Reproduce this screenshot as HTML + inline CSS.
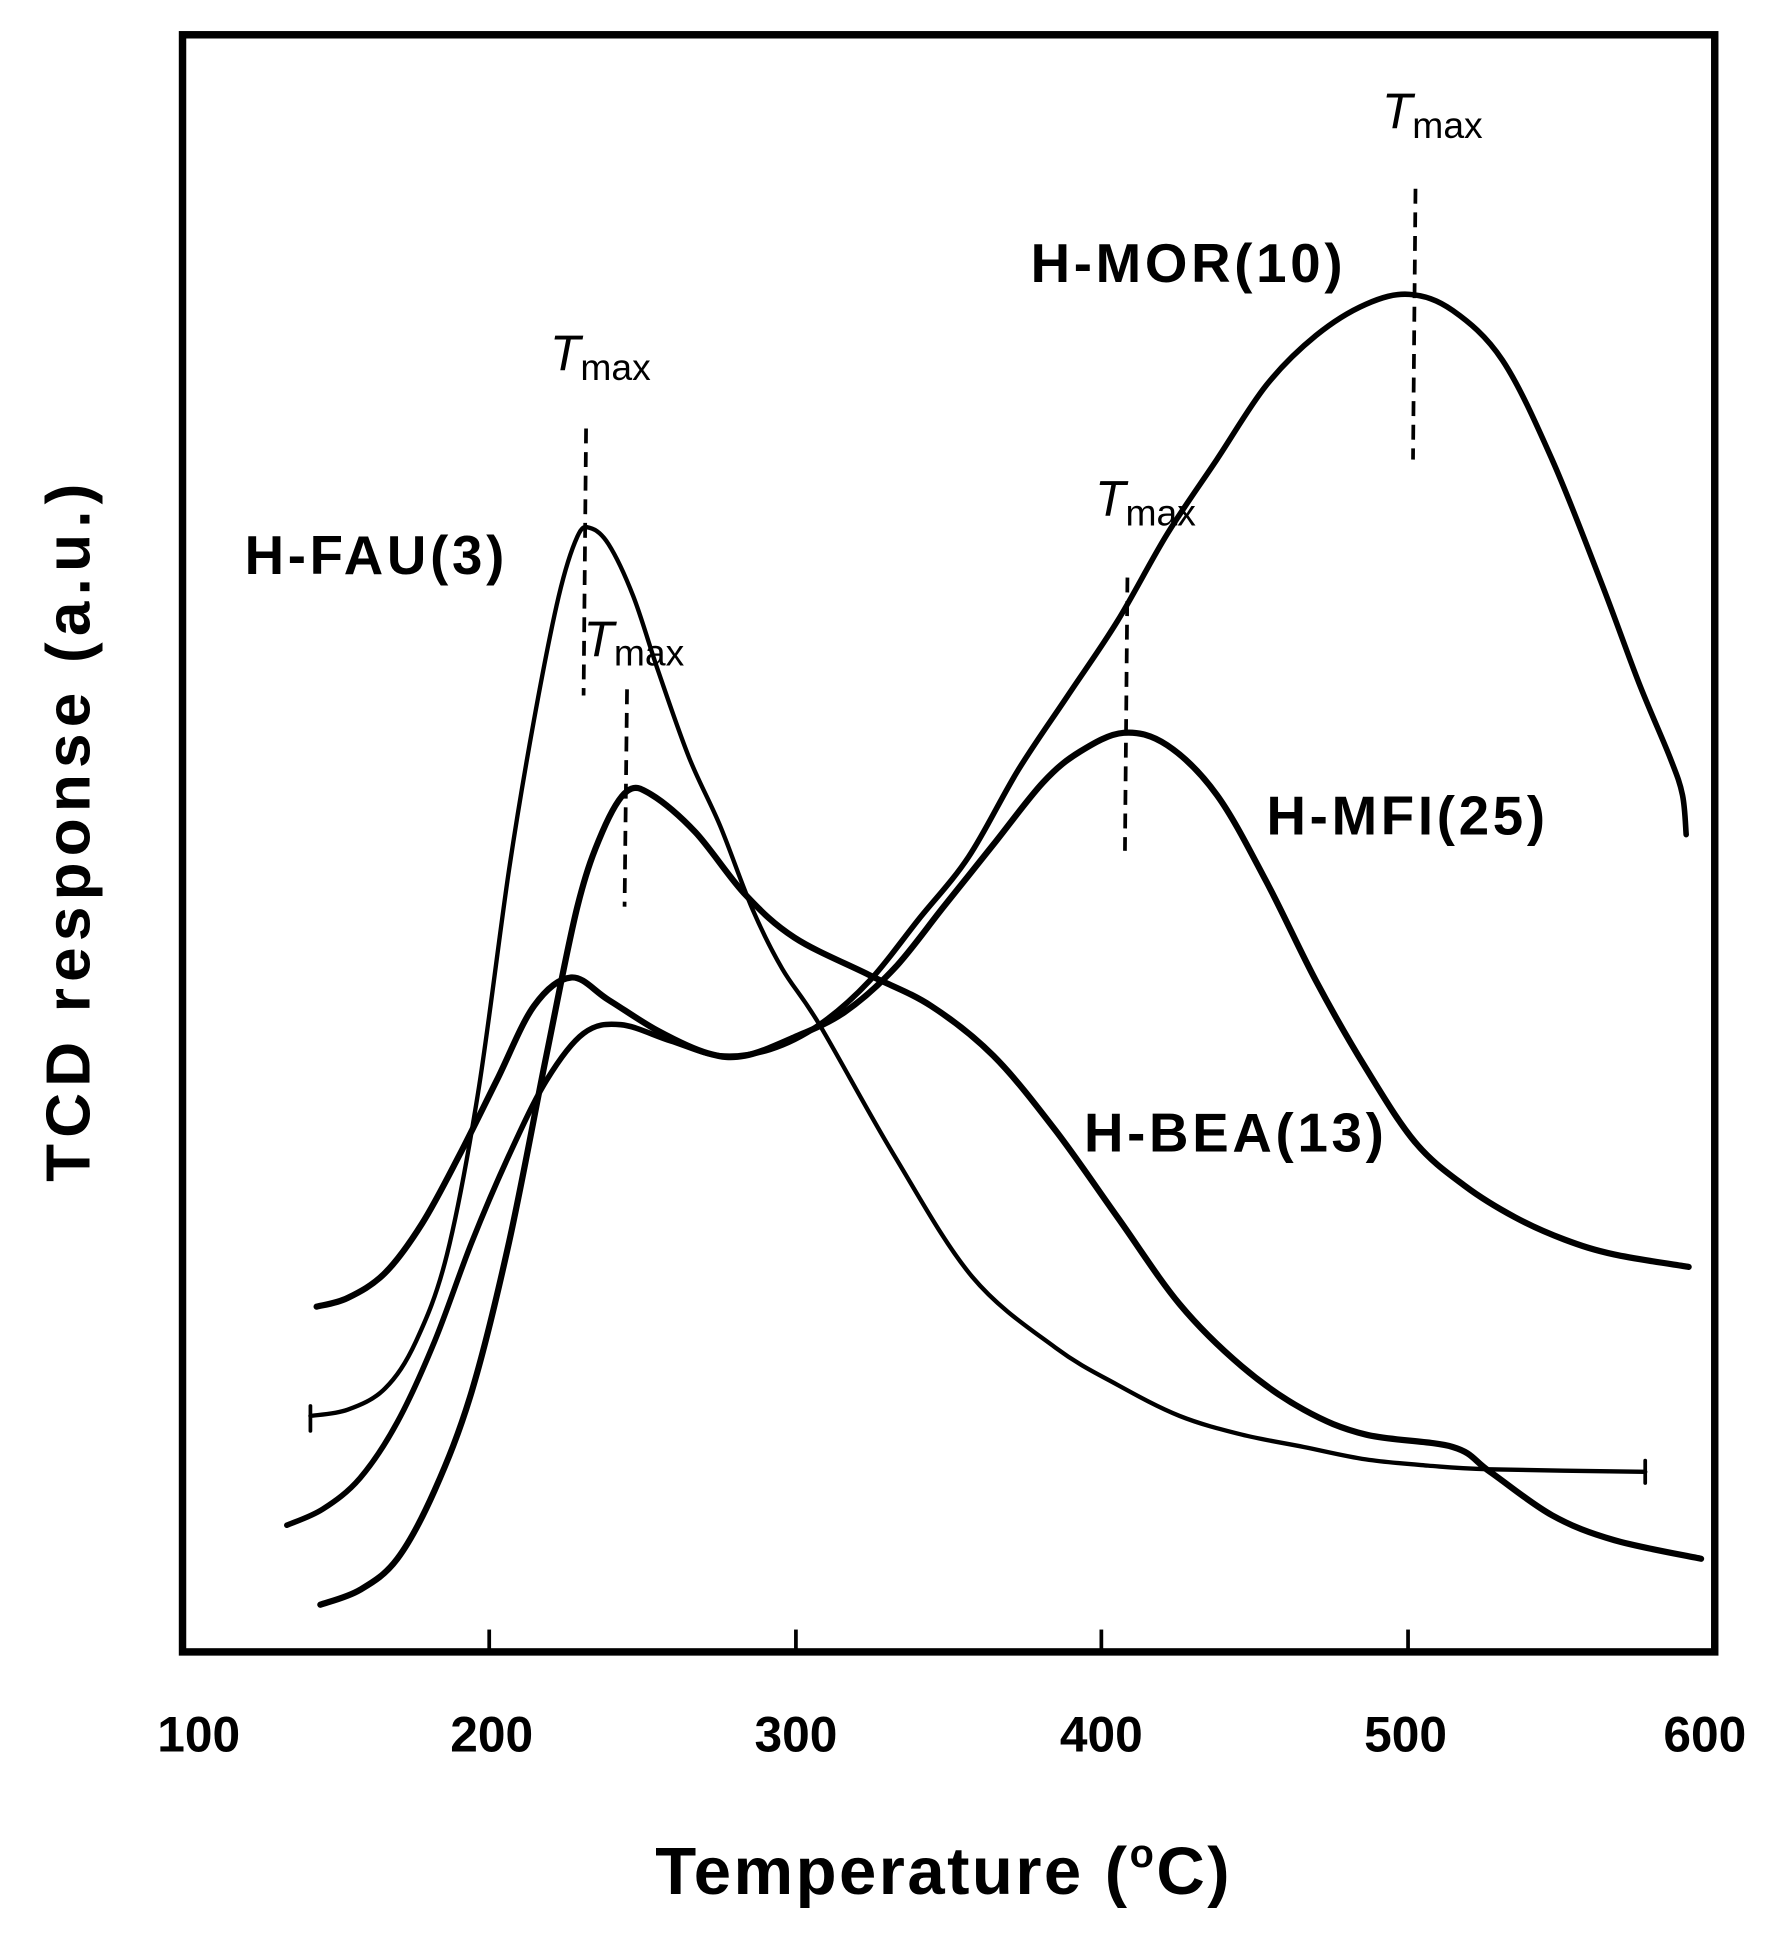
<!DOCTYPE html>
<html><head><meta charset="utf-8"><style>
html,body{margin:0;padding:0;background:#fff;}
svg{display:block;}
text{font-family:"Liberation Sans",Arial,sans-serif;fill:#000;}
</style></head><body>
<svg width="1788" height="1950" viewBox="0 0 1440 1570" preserveAspectRatio="none" xmlns="http://www.w3.org/2000/svg">
<rect x="0" y="0" width="1440" height="1570" fill="#fff"/>
<rect x="147" y="28" width="1234" height="1302" fill="none" stroke="#000" stroke-width="6"/>
<g stroke="#000" stroke-width="3">
<line x1="394" y1="1330" x2="394" y2="1312"/>
<line x1="641" y1="1330" x2="641" y2="1312"/>
<line x1="887" y1="1330" x2="887" y2="1312"/>
<line x1="1134" y1="1330" x2="1134" y2="1312"/>
</g>
<g font-size="40" font-weight="bold" text-anchor="middle">
<text x="160" y="1410">100</text><text x="396" y="1410">200</text><text x="641" y="1410">300</text>
<text x="887" y="1410">400</text><text x="1132" y="1410">500</text><text x="1373" y="1410">600</text>
</g>
<text x="760" y="1525" font-size="54" font-weight="bold" text-anchor="middle" letter-spacing="2">Temperature (<tspan font-size="32" dy="-22">o</tspan><tspan dy="22">C)</tspan></text>
<text transform="translate(72,668) rotate(-90)" font-size="50" font-weight="bold" text-anchor="middle" letter-spacing="5">TCD response (a.u.)</text>

<g fill="none" stroke="#000" stroke-linejoin="round" stroke-linecap="round">
<path class="c" stroke-width="3.5" data-p="250,1140 280,1135 310,1118 335,1080 360,1010 385,880 410,700 430,580 450,480 465,432 475,425 490,438 510,480 530,540 555,610 580,665 606,732 630,780 660,825 720,930 783,1028 850,1085 900,1115 950,1140 1000,1155 1050,1165 1100,1175 1150,1180 1200,1183 1325,1185"/>
<line x1="250" y1="1132" x2="250" y2="1152" stroke-width="3"/>
<line x1="1325" y1="1176" x2="1325" y2="1194" stroke-width="3"/>
<path class="c" stroke-width="5" data-p="258,1292 290,1280 320,1255 350,1200 380,1120 410,1000 440,850 465,730 485,670 505,637 525,640 560,670 600,720 640,755 700,785 750,810 800,850 850,910 900,980 950,1050 1000,1100 1050,1135 1100,1155 1170,1165 1200,1185 1250,1220 1300,1240 1370,1255"/>
<path class="c" stroke-width="5" data-p="255,1052 280,1045 310,1025 340,985 370,930 400,870 430,810 460,787 490,805 530,830 570,848 600,850 640,835 680,815 720,780 760,730 800,680 840,630 870,605 905,590 940,600 980,640 1020,710 1060,790 1100,860 1140,920 1180,955 1220,980 1260,998 1300,1010 1360,1020"/>
<path class="c" stroke-width="4.5" data-p="231,1228 260,1215 290,1190 320,1145 350,1080 380,1000 410,930 440,870 470,832 500,825 540,838 580,850 620,845 660,825 700,790 740,740 780,690 820,620 860,560 900,500 940,430 980,370 1020,310 1060,270 1100,245 1135,237 1170,250 1210,290 1250,370 1290,470 1320,550 1345,610 1355,640 1358,672"/>
</g>
<g stroke="#000" stroke-width="3" stroke-dasharray="12 7">
<line x1="472" y1="345" x2="470" y2="560"/>
<line x1="505" y1="555" x2="503" y2="730"/>
<line x1="908" y1="465" x2="906" y2="685"/>
<line x1="1140" y1="152" x2="1138" y2="370"/>
</g>
<g font-size="40">
<text x="443" y="298" font-style="italic">T<tspan font-size="30" dy="8" font-style="normal">max</tspan></text>
<text x="470" y="528" font-style="italic">T<tspan font-size="30" dy="8" font-style="normal">max</tspan></text>
<text x="882" y="415" font-style="italic">T<tspan font-size="30" dy="8" font-style="normal">max</tspan></text>
<text x="1113" y="103" font-style="italic">T<tspan font-size="30" dy="8" font-style="normal">max</tspan></text>
</g>
<g font-size="44" font-weight="bold" letter-spacing="3">
<text x="830" y="227">H-MOR(10)</text>
<text x="197" y="462">H-FAU(3)</text>
<text x="1020" y="672">H-MFI(25)</text>
<text x="873" y="927">H-BEA(13)</text>
</g>
</svg>
<script>
document.querySelectorAll('path.c').forEach(function(el){
var p=el.getAttribute('data-p').trim().split(/\s+/).map(function(s){return s.split(',').map(Number);});
var d='M'+p[0][0]+','+p[0][1];
for(var i=0;i<p.length-1;i++){
var p0=p[i-1]||p[i],p1=p[i],p2=p[i+1],p3=p[i+2]||p2;
var c1x=p1[0]+(p2[0]-p0[0])/6,c1y=p1[1]+(p2[1]-p0[1])/6;
var c2x=p2[0]-(p3[0]-p1[0])/6,c2y=p2[1]-(p3[1]-p1[1])/6;
d+=' C'+c1x+','+c1y+' '+c2x+','+c2y+' '+p2[0]+','+p2[1];
}
el.setAttribute('d',d);
});
</script>
</body></html>
